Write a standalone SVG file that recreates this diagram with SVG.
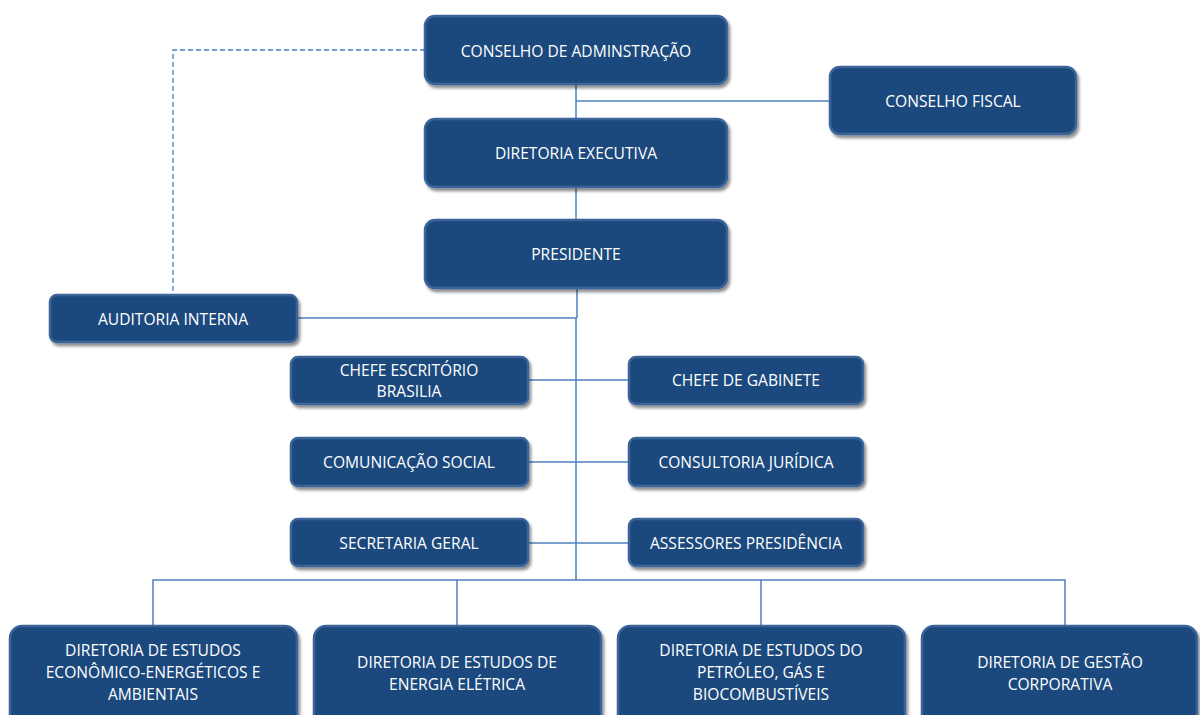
<svg xmlns="http://www.w3.org/2000/svg" width="1200" height="715" viewBox="0 0 1200 715">
<defs>
<filter id="sh" x="-10%" y="-20%" width="125%" height="150%">
<feDropShadow dx="2" dy="3" stdDeviation="1.6" flood-color="#000" flood-opacity="0.45"/>
</filter>
<style>
.box{fill:#1f497d;stroke:#3a6598;stroke-width:2.5;filter:url(#sh)}
.t{fill:#fff;font-family:"Open Sans","Liberation Sans",sans-serif;font-size:15.6px;text-anchor:middle;dominant-baseline:central}
.c{fill:none;stroke:#4f81bd;stroke-width:1.5}
.d{fill:none;stroke:#4f81bd;stroke-width:1.3;stroke-dasharray:5 3}
</style>
</defs>
<rect width="1200" height="715" fill="#fff"/>
<g id="connectors">
<path class="d" d="M425 50 H173 V295"/>
<path class="c" d="M576 84 V118 M576 101 H830"/>
<path class="c" d="M576 187 V220"/>
<path class="c" d="M577 288 V318 M297 318 H577 M576 318 V580"/>
<path class="c" d="M528 380 H629 M528 462 H629 M528 543 H629"/>
<path class="c" d="M153 626 V580 H1065 V626 M457 580 V626 M761 580 V626"/>
</g>
<g id="n-ca"><rect class="box" x="425" y="16" width="302" height="68" rx="10"/><text class="t" x="576" y="51">CONSELHO DE ADMINSTRAÇÃO</text></g>
<g id="n-cf"><rect class="box" x="830" y="67" width="246" height="67" rx="10"/><text class="t" x="953" y="101">CONSELHO FISCAL</text></g>
<g id="n-de"><rect class="box" x="425" y="119" width="302" height="68" rx="10"/><text class="t" x="576" y="153">DIRETORIA EXECUTIVA</text></g>
<g id="n-pr"><rect class="box" x="425" y="220" width="302" height="68" rx="10"/><text class="t" x="576" y="254">PRESIDENTE</text></g>
<g id="n-ai"><rect class="box" x="50" y="295" width="247" height="47" rx="7"/><text class="t" x="173" y="319">AUDITORIA INTERNA</text></g>
<g id="n-ceb"><rect class="box" x="291" y="357" width="237" height="47" rx="7"/><text class="t" x="409" y="370">CHEFE ESCRITÓRIO</text><text class="t" x="409" y="391">BRASILIA</text></g>
<g id="n-cg"><rect class="box" x="629" y="357" width="234" height="47" rx="7"/><text class="t" x="746" y="380">CHEFE DE GABINETE</text></g>
<g id="n-cs"><rect class="box" x="291" y="438" width="237" height="48" rx="7"/><text class="t" x="409" y="462">COMUNICAÇÃO SOCIAL</text></g>
<g id="n-cj"><rect class="box" x="629" y="438" width="234" height="48" rx="7"/><text class="t" x="746" y="462">CONSULTORIA JURÍDICA</text></g>
<g id="n-sg"><rect class="box" x="291" y="519" width="237" height="47" rx="7"/><text class="t" x="409" y="543">SECRETARIA GERAL</text></g>
<g id="n-ap"><rect class="box" x="629" y="519" width="234" height="47" rx="7"/><text class="t" x="746" y="543">ASSESSORES PRESIDÊNCIA</text></g>
<g id="n-d1"><rect class="box" x="10" y="626" width="287" height="100" rx="12"/><text class="t" x="153" y="650">DIRETORIA DE ESTUDOS</text><text class="t" x="153" y="672">ECONÔMICO-ENERGÉTICOS E</text><text class="t" x="153" y="694">AMBIENTAIS</text></g>
<g id="n-d2"><rect class="box" x="314" y="626" width="287" height="100" rx="12"/><text class="t" x="457" y="662">DIRETORIA DE ESTUDOS DE</text><text class="t" x="457" y="684">ENERGIA ELÉTRICA</text></g>
<g id="n-d3"><rect class="box" x="618" y="626" width="287" height="100" rx="12"/><text class="t" x="761" y="650">DIRETORIA DE ESTUDOS DO</text><text class="t" x="761" y="672">PETRÓLEO, GÁS E</text><text class="t" x="761" y="694">BIOCOMBUSTÍVEIS</text></g>
<g id="n-d4"><rect class="box" x="922" y="626" width="275" height="100" rx="12"/><text class="t" x="1060" y="662">DIRETORIA DE GESTÃO</text><text class="t" x="1060" y="684">CORPORATIVA</text></g>
</svg>
